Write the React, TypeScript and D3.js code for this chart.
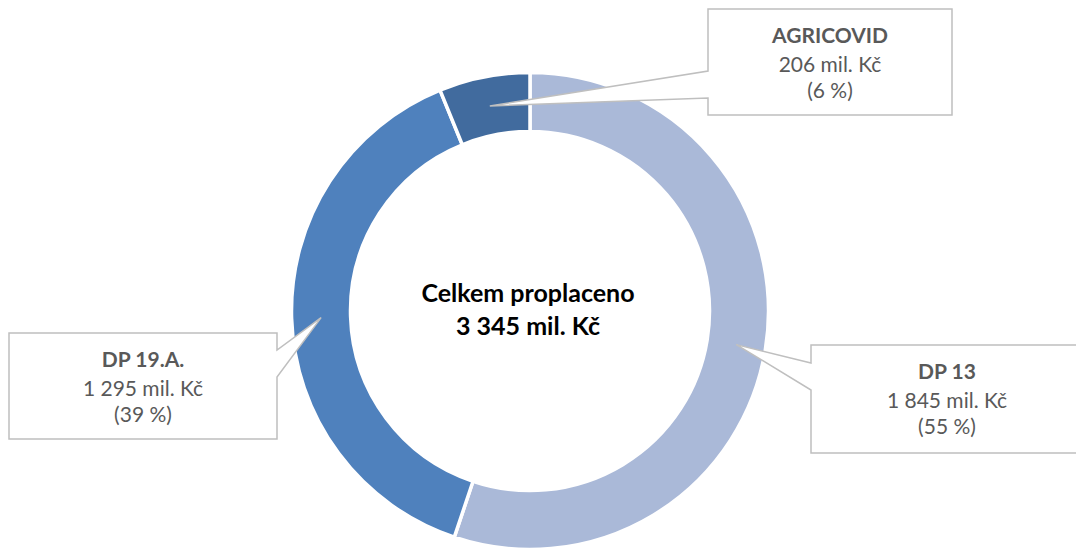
import * as d3 from 'd3';

const WIDTH = 1076;
const HEIGHT = 548;

// data
const categories = ['DP 13', 'DP 19.A.', 'AGRICOVID'];
const values = [1845, 1295, 206];
const valueLabels = ['1 845 mil. Kč', '1 295 mil. Kč', '206 mil. Kč'];
const percentLabels = ['(55 %)', '(39 %)', '(6 %)'];
const colors = ['#AAB9D8', '#4F81BD', '#416B9E'];
const centerLines = ['Celkem proplaceno', '3 345 mil. Kč'];

// callout boxes (layout only)
const boxes = [
  { x: 811, y: 345, w: 272, h: 108, side: 'left', a: 363, b: 390 },
  { x: 9, y: 333, w: 268, h: 106, side: 'right', a: 350, b: 377 },
  { x: 708, y: 9, w: 244, h: 106, side: 'left', a: 71, b: 98 },
];

const CX = 530;
const CY = 311;
const OUTER = 238.5;
const INNER = 179.5;
const FONT = 'Lato, "Open Sans", sans-serif';

const calloutPath = (
  b: { x: number; y: number; w: number; h: number; side: string; a: number; b: number },
  tip: [number, number]
) => {
  const x0 = b.x;
  const x1 = b.x + b.w;
  const y0 = b.y;
  const y1 = b.y + b.h;
  if (b.side === 'left') {
    return `M${x0},${y0}L${x1},${y0}L${x1},${y1}L${x0},${y1}L${x0},${b.b}L${tip[0]},${tip[1]}L${x0},${b.a}Z`;
  }
  return `M${x0},${y0}L${x1},${y0}L${x1},${b.a}L${tip[0]},${tip[1]}L${x1},${b.b}L${x1},${y1}L${x0},${y1}Z`;
};

const App = () => {
  const pie = d3
    .pie<number>()
    .sort(null)
    .value((d) => d);
  const arcs = pie(values);
  const arc = d3.arc<d3.PieArcDatum<number>>().innerRadius(INNER).outerRadius(OUTER);
  const mid = d3
    .arc<d3.PieArcDatum<number>>()
    .innerRadius((INNER + OUTER) / 2)
    .outerRadius((INNER + OUTER) / 2);

  const slices = arcs.map((d, i) => (
    <path key={i} d={arc(d) ?? ''} fill={colors[i]} stroke="#fff" strokeWidth={3.5} />
  ));

  const labels = arcs.map((d, i) => {
    const c = mid.centroid(d);
    const tip: [number, number] = [CX + c[0], CY + c[1]];
    const b = boxes[i];
    const tx = b.x + b.w / 2;
    return (
      <g key={i}>
        <path d={calloutPath(b, tip)} fill="#fff" stroke="#BFBFBF" strokeWidth={1.5} />
        <text x={tx} y={b.y + 34} textAnchor="middle" fontSize={21} fontWeight="bold" fill="#595959">
          {categories[i]}
        </text>
        <text x={tx} y={b.y + 63} textAnchor="middle" fontSize={21} fill="#595959">
          {valueLabels[i]}
        </text>
        <text x={tx} y={b.y + 89} textAnchor="middle" fontSize={21} fill="#595959">
          {percentLabels[i]}
        </text>
      </g>
    );
  });

  return (
    <svg
      width={WIDTH}
      height={HEIGHT}
      style={{ position: 'absolute', left: 0, top: 0, fontFamily: FONT }}
    >
      <rect width={WIDTH} height={HEIGHT} fill="#fff" />
      <g transform={`translate(${CX},${CY})`}>{slices}</g>
      {labels}
      {centerLines.map((t, i) => (
        <text
          key={i}
          x={528}
          y={302 + i * 33}
          textAnchor="middle"
          fontSize={25}
          fontWeight="bold"
          fill="#000"
        >
          {t}
        </text>
      ))}
    </svg>
  );
};

export default App;
